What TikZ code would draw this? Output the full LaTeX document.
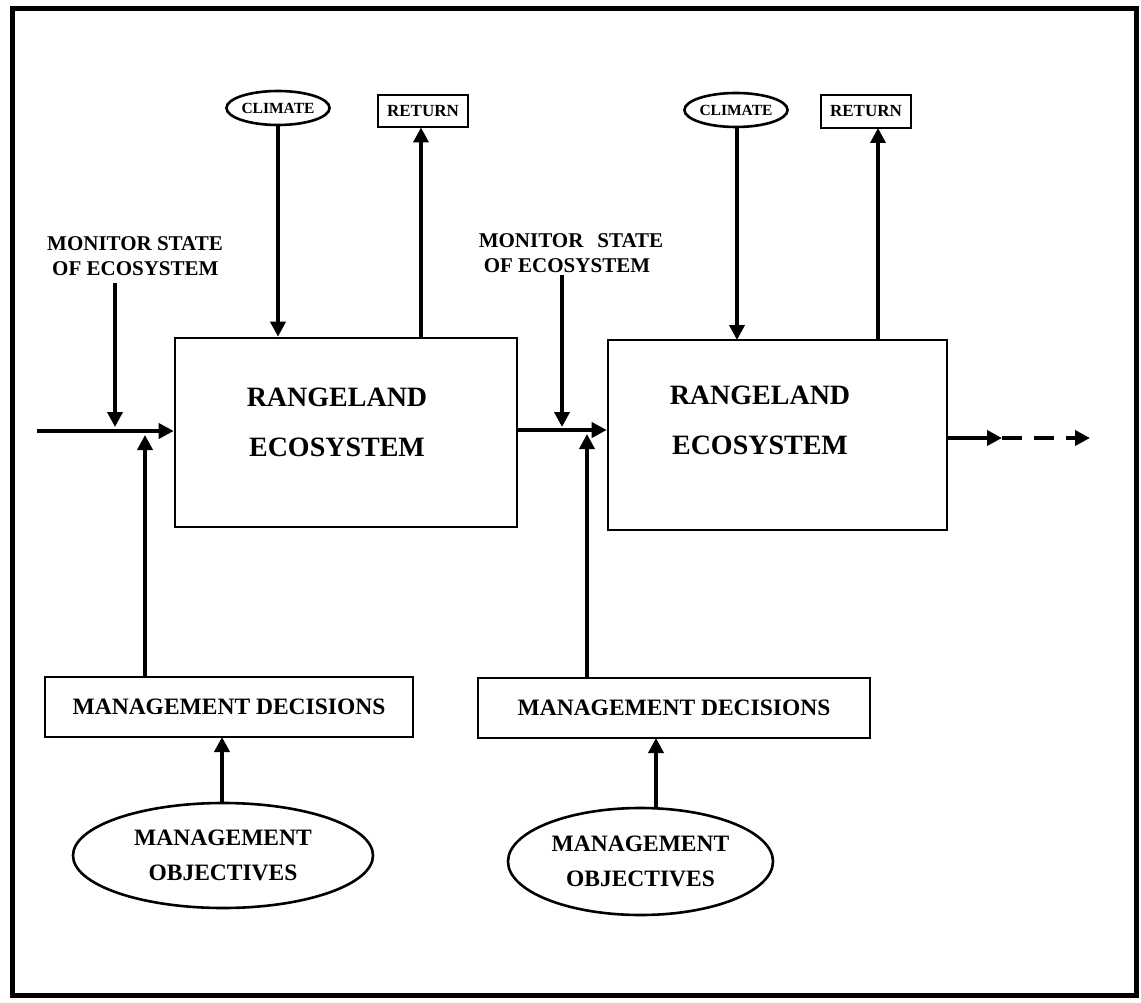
\documentclass[tikz,border=0pt]{standalone}
\usepackage{fontspec}
\setmainfont{Liberation Serif}
\usetikzlibrary{arrows.meta,shapes.geometric}
\begin{document}
\begin{tikzpicture}[x=1pt,y=-1pt,
  every node/.style={font=\bfseries},
  boxn/.style={draw,line width=2.6pt,rectangle,inner sep=0pt},
  elln/.style={draw,line width=2.6pt,ellipse,inner sep=0pt},
  arr/.style={line width=3.6pt,-{Triangle[length=15pt,width=15pt]}},
  lbl/.style={font=\bfseries\fontsize{21}{25}\selectfont,align=left,inner sep=0pt}
]
\useasboundingbox (0,0) rectangle (1141,1003);
\draw[line width=5pt] (12,9) rectangle (1136,995);

% top nodes
\node[elln,minimum width=86pt,minimum height=34pt,font=\bfseries\fontsize{15.5}{18}\selectfont] (clim1) at (278,108) {CLIMATE};
\node[boxn,minimum width=90pt,minimum height=32pt,font=\bfseries\fontsize{17}{18}\selectfont] (ret1) at (423,111) {RETURN};
\node[elln,minimum width=88pt,minimum height=34pt,font=\bfseries\fontsize{15.5}{18}\selectfont] (clim2) at (736,110) {CLIMATE};
\node[boxn,minimum width=90pt,minimum height=33pt,font=\bfseries\fontsize{17}{18}\selectfont] (ret2) at (866,111.5) {RETURN};

% ecosystem boxes
\node[boxn,minimum width=342pt,minimum height=189pt] (box1) at (346,432.5) {};
\node[font=\bfseries\fontsize{28}{50}\selectfont,align=center] (t1) at (337,422) {RANGELAND\\ECOSYSTEM};
\node[boxn,minimum width=339pt,minimum height=190pt] (box2) at (777.5,435) {};
\node[font=\bfseries\fontsize{28}{50}\selectfont,align=center] (t2) at (760,420) {RANGELAND\\ECOSYSTEM};

% monitor labels
\node[lbl] (mon1) at (135,256) {MONITOR STATE\\\hspace*{5pt}OF ECOSYSTEM};
\node[lbl] (mon2) at (571,253) {MONITOR\hspace{14pt}STATE\\\hspace*{5pt}OF ECOSYSTEM};

% decisions
\node[boxn,minimum width=368pt,minimum height=60pt,font=\bfseries\fontsize{23.5}{24}\selectfont] (dec1) at (229,707) {MANAGEMENT DECISIONS};
\node[boxn,minimum width=392pt,minimum height=60pt,font=\bfseries\fontsize{23.5}{24}\selectfont] (dec2) at (674,708) {MANAGEMENT DECISIONS};

% objectives
\node[elln,minimum width=300pt,minimum height=105pt,font=\bfseries\fontsize{23.5}{35}\selectfont,align=center] (obj1) at (223,855.5) {MANAGEMENT\\OBJECTIVES};
\node[elln,minimum width=265pt,minimum height=107pt,font=\bfseries\fontsize{23.5}{35}\selectfont,align=center] (obj2) at (640.5,861.5) {MANAGEMENT\\OBJECTIVES};

% coordinates
\coordinate (in1) at (37,431);
\coordinate (m1) at (115,283);
\coordinate (m2) at (562,275);
\coordinate (out1) at (1002,438);
\coordinate (out2) at (1090,438);

% climate & return arrows
\draw[arr] (clim1.south) -- (clim1.south |- box1.north);
\draw[arr] (421,338) -- (421,127.5);
\draw[arr] (737,127) -- (737,340);
\draw[arr] (878,340) -- (878,128);

% main flow
\draw[arr] (in1) -- (in1 -| box1.west);
\draw[arr] (m1) -- (115,427);
\draw[arr] (145,677) -- (145,435);
\draw[arr] (box1.east |- 0,430) -- (box2.west |- 0,430);
\draw[arr] (m2) -- (562,427);
\draw[arr] (587,678) -- (587,434);

% objectives -> decisions
\draw[arr] (222,803) -- (222,737);
\draw[arr] (656,808) -- (656,738);

% output
\draw[arr] (box2.east |- out1) -- (out1);
\draw[arr,dash pattern=on 20pt off 12pt] (out1) -- (out2);
\end{tikzpicture}
\end{document}
